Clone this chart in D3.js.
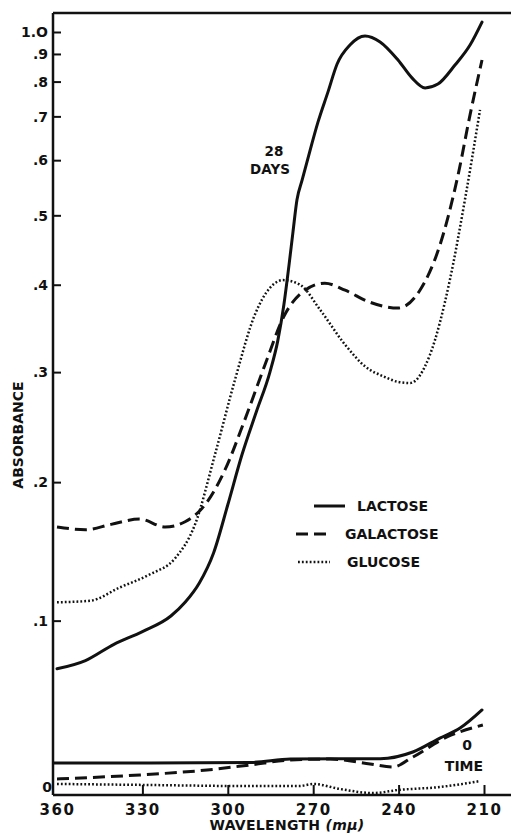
<!DOCTYPE html>
<html><head><meta charset="utf-8">
<script src="https://cdn.jsdelivr.net/npm/d3@7"></script>
<style>
html,body{margin:0;padding:0;background:#fff;}
svg{display:block;}
text{font-family:"DejaVu Sans",Arial,sans-serif;font-weight:bold;fill:#111;}
</style>
</head><body>
<svg id="chart" width="511" height="834"></svg>
<script>
// ---- data (wavelength in mμ, absorbance) ----
const lactose28WL  = [360,350,340,330,320,315,310,305,300,295,290,285.2,282.4,280.3,278.5,277.1,275.7,273.9,272.2,268.3,264.8,261.6,257.1,251.8,246.5,240.2,235.3,230.7,226.2,220.2,214.9,210.7];
const lactose28Abs = [0.070,0.075,0.085,0.093,0.103,0.112,0.125,0.146,0.182,0.223,0.261,0.300,0.334,0.375,0.426,0.474,0.526,0.561,0.596,0.686,0.768,0.861,0.938,0.980,0.952,0.876,0.812,0.780,0.792,0.857,0.938,1.054];

const galactose28WL  = [360,350,341,331,322,315,308,301,294,287,280,272.9,265.9,258.8,250,240.2,232.5,225.5,219.1,214.9,210.7];
const galactose28Abs = [0.165,0.163,0.167,0.171,0.165,0.169,0.182,0.210,0.254,0.307,0.363,0.393,0.402,0.393,0.378,0.371,0.393,0.454,0.571,0.704,0.876];

const glucose28WL  = [360,348.4,337.9,327.3,318.6,311.5,304.5,297.5,290.5,285.2,280.6,274.6,267.6,258.8,251.8,244.8,240,236,229,222,216.7,211.4];
const glucose28Abs = [0.112,0.113,0.122,0.131,0.142,0.167,0.223,0.292,0.363,0.396,0.406,0.400,0.369,0.329,0.306,0.295,0.290,0.289,0.318,0.406,0.526,0.717];

const lactose0WL  = [361,327.3,292,278,260.6,246.5,235,225.5,218.4,210.7];
const lactose0Abs = [0.0167,0.0167,0.0170,0.0188,0.0190,0.0190,0.0226,0.0302,0.0357,0.0459];

const galactose0WL  = [360,330.8,307.3,292,278,264,250,242,235,223,210.4];
const galactose0Abs = [0.0083,0.0104,0.0130,0.0157,0.0183,0.0188,0.0162,0.0146,0.0199,0.0308,0.0374];

const glucose0WL  = [360,330,292,275,270,260.6,249,240,225.5,211.4];
const glucose0Abs = [0.0057,0.0052,0.0046,0.0046,0.0057,0.0031,0.0010,0.0026,0.0041,0.0072];

const xTickValues = [360,330,300,270,240,210];
const yTickValues = [0,0.1,0.2,0.3,0.4,0.5,0.6,0.7,0.8,0.9,1.0];
const yTickLabels = ["0",".1",".2",".3",".4",".5",".6",".7",".8",".9","1.O"];

const legendNames = ["LACTOSE","GALACTOSE","GLUCOSE"];
// ---------------------------------------------

(function(){
const svg = d3.select("#chart");
svg.append("rect").attr("width",511).attr("height",834).attr("fill","#fff");

const pLeft = 53, pTop = 13, pBottom = 795, pRight = 511;
const x = d3.scaleLinear().domain([360,210]).range([57,484]);
// absorbance paper: linear in transmittance T = 10^-A
const yT = d3.scaleLinear().domain([1,0.1]).range([pBottom,32]);
const y = a => yT(Math.pow(10,-a));

const styles = {
  solid:  {w:3, dash:null, cap:"round"},
  dashed: {w:3, dash:"12,6", cap:"butt"},
  dotted: {w:2.5, dash:"1.8,2.1", cap:"butt"}
};

// frame
svg.append("line").attr("x1",pLeft).attr("x2",pRight).attr("y1",pTop).attr("y2",pTop)
  .attr("stroke","#111").attr("stroke-width",2.5);
svg.append("line").attr("x1",pLeft).attr("x2",pRight).attr("y1",pBottom).attr("y2",pBottom)
  .attr("stroke","#111").attr("stroke-width",2.5);
svg.append("line").attr("x1",pLeft).attr("x2",pLeft).attr("y1",pTop).attr("y2",pBottom)
  .attr("stroke","#111").attr("stroke-width",2.5);

// y axis
const yAxis = d3.axisLeft(yT)
  .tickValues(yTickValues.map(a=>Math.pow(10,-a)))
  .tickSize(-8).tickPadding(5)
  .tickFormat((d,i)=>yTickLabels[i]);
const gy = svg.append("g").attr("transform",`translate(${pLeft},0)`).call(yAxis);
gy.select(".domain").remove();
gy.selectAll(".tick line").attr("stroke","#111").attr("stroke-width",2)
  .filter((d,i)=>i===0).remove();
gy.selectAll(".tick text").attr("font-size",14).attr("fill","#111")
  .attr("font-family","DejaVu Sans, Arial, sans-serif").attr("font-weight","bold")
  .attr("dy",(d,i)=> i===0 ? "-0.28em" : "0.34em")
  .attr("x",(d,i)=> i===0 ? -1 : -5);

// x axis
const xAxis = d3.axisBottom(x).tickValues(xTickValues).tickSize(-10).tickPadding(9)
  .tickFormat(d3.format("d"));
const gx = svg.append("g").attr("transform",`translate(0,${pBottom})`).call(xAxis);
gx.select(".domain").remove();
gx.selectAll(".tick line").attr("stroke","#111").attr("stroke-width",2)
  .filter(d=>d===360).remove();
gx.selectAll(".tick text").attr("font-size",15).attr("fill","#111")
  .attr("font-family","DejaVu Sans, Arial, sans-serif").attr("font-weight","bold")
  .attr("letter-spacing",1.5);

// axis titles
svg.append("text").attr("transform","translate(23,435) rotate(-90)")
  .attr("text-anchor","middle").attr("font-size",14)
  .text("ABSORBANCE");
const xt = svg.append("text").attr("x",287).attr("y",830).attr("text-anchor","middle")
  .attr("font-size",14).attr("letter-spacing",0.3);
xt.append("tspan").text("WAVELENGTH  ");
xt.append("tspan").attr("font-style","italic").text("(mμ)");

// curves
const line = d3.line().x(d=>x(d[0])).y(d=>y(d[1])).curve(d3.curveMonotoneX);
const series = [
  [lactose28WL,lactose28Abs,"solid"],
  [galactose28WL,galactose28Abs,"dashed"],
  [glucose28WL,glucose28Abs,"dotted"],
  [lactose0WL,lactose0Abs,"solid"],
  [galactose0WL,galactose0Abs,"dashed"],
  [glucose0WL,glucose0Abs,"dotted"]
];
series.forEach(([wl,ab,st])=>{
  const s = styles[st];
  svg.append("path").datum(wl.map((w,i)=>[w,ab[i]]))
    .attr("d",line).attr("fill","none").attr("stroke","#111")
    .attr("stroke-width",s.w).attr("stroke-linecap",s.cap)
    .attr("stroke-dasharray",s.dash);
});

// annotations
svg.append("text").attr("x",274).attr("y",156).attr("text-anchor","middle").attr("font-size",13.5).text("28");
svg.append("text").attr("x",270).attr("y",174).attr("text-anchor","middle").attr("font-size",13.5).text("DAYS");
svg.append("text").attr("x",467).attr("y",750).attr("text-anchor","middle").attr("font-size",14).text("0");
svg.append("text").attr("x",464).attr("y",771).attr("text-anchor","middle").attr("font-size",14).text("TIME");

// legend
const legStyles = ["solid","dashed","dotted"];
const legX1 = [314,296,298], legX2 = [345,326,330], legTX = [357,345,347];
legendNames.forEach((n,i)=>{
  const ly = 506 + i*28;
  const s = styles[legStyles[i]];
  svg.append("line").attr("x1",legX1[i]).attr("x2",legX2[i]).attr("y1",ly).attr("y2",ly)
    .attr("stroke","#111").attr("stroke-width",s.w).attr("stroke-dasharray",s.dash);
  svg.append("text").attr("x",legTX[i]).attr("y",ly+5).attr("font-size",14).text(n);
});
})();
</script>
</body></html>
